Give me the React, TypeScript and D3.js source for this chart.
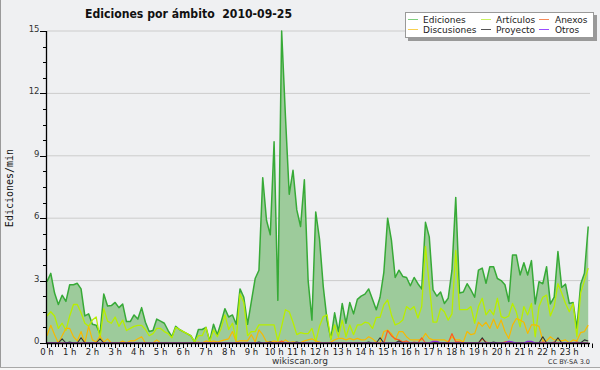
import React from 'react';
import * as d3 from 'd3';

// 10-minute samples, 144 per day
const ediciones = [
  2.95, 3.35, 2.4, 1.85, 2.3, 2.0, 2.8, 2.8, 2.87, 2.6, 1.3, 1.4,
  0.9, 0.85, 0.45, 2.36, 1.78, 1.8, 1.95, 1.7, 1.87, 1.03, 1.03, 1.35,
  1.15, 1.7, 1.0, 0.55, 0.6, 1.15, 1.05, 0.95, 0.6, 0.3, 0.8, 0.65,
  0.55, 0.45, 0.35, 0.05, 0.65, 0.65, 0.75, 0.1, 0.9, 0.4, 1.0, 1.65,
  1.25, 1.35, 0.9, 2.6, 2.2, 0.9, 2.0, 3.1, 3.5, 7.95, 5.9, 5.2,
  9.68, 2.05, 15.0, 10.9, 7.15, 8.3, 6.4, 5.6, 7.85, 3.0, 1.1, 6.3,
  5.0, 2.7, 1.1, 0.2, 1.45, 0.55, 1.9, 0.95, 1.95, 1.4, 2.1, 2.25,
  2.35, 2.6, 2.1, 1.6, 2.2, 3.4, 6.0, 4.95, 3.15, 3.5, 3.2, 3.15,
  2.75, 3.15, 2.85, 2.6, 5.8, 5.1, 2.55, 2.25, 2.45, 1.9, 2.15, 3.5,
  7.0, 2.4, 2.45, 2.85, 2.55, 2.2, 3.5, 3.6, 2.87, 3.67, 3.67, 3.1,
  3.0, 2.8, 2.0, 4.23, 4.23, 3.27, 3.86, 3.27, 3.96, 1.88, 2.95, 2.85,
  3.67, 1.88, 2.2, 4.4, 2.67, 2.83, 1.9, 1.95, 0.7, 2.83, 3.35, 5.6,
];

const articulos = [
  1.3, 1.5, 1.3, 0.7, 0.95, 0.6, 1.3, 1.85, 1.85, 1.45, 0.95, 0.8,
  1.1, 1.25, 0.2, 1.65, 1.05, 0.95, 1.25, 0.8, 1.1, 0.6, 0.7, 0.8,
  0.85, 0.85, 0.65, 0.35, 0.45, 0.7, 0.7, 0.55, 0.45, 0.25, 0.75, 0.65,
  0.55, 0.45, 0.35, 0.05, 0.35, 0.35, 0.75, 0.05, 0.63, 0.3, 0.7, 1.35,
  0.65, 0.95, 0.15, 2.36, 1.95, 0.35, 0.55, 0.55, 0.87, 0.87, 0.87, 0.87,
  0.87, 0.1, 0.8, 1.6, 1.5, 1.0, 0.4, 0.5, 0.45, 0.45, 0.7, 0.06,
  0.8, 1.27, 1.35, 0.15, 0.87, 0.3, 1.1, 0.3, 0.87, 0.4, 0.87, 0.87,
  1.0, 0.95, 0.7, 1.23, 1.23, 1.83, 2.07, 1.35, 0.87, 0.95, 1.1, 1.75,
  1.6, 1.75, 1.2, 1.75, 4.65, 2.8, 1.0, 1.0, 1.67, 1.5, 1.1, 1.4,
  4.45, 1.6, 1.6, 1.6, 1.75, 0.95, 1.75, 2.15, 1.35, 1.6, 1.35, 2.15,
  1.27, 1.2, 1.3, 1.9, 1.5, 0.78, 1.75, 1.35, 1.9, 0.3, 1.75, 2.2,
  2.3, 1.3, 1.75, 2.85, 2.4, 1.9, 1.5, 1.9, 0.3, 2.4, 3.0, 3.6,
];

const discusiones = [
  0.35, 0.85, 0.4, 0.0, 0.35, 0.7, 0.7, 0.3, 0.1, 0.55, 0.0, 0.8,
  0.15, 0.05, 0.35, 0.05, 0.2, 0.0, 0.0, 0.0, 0.1, 0.0, 0.1, 0.1,
  0.2, 0.3, 0.0, 0.0, 0.0, 0.15, 0.0, 0.0, 0.0, 0.0, 0.0, 0.0,
  0.0, 0.0, 0.0, 0.0, 0.05, 0.0, 0.1, 0.05, 0.1, 0.05, 0.1, 0.15,
  0.2, 0.55, 0.05, 0.1, 0.1, 0.1, 0.4, 0.05, 0.63, 0.4, 0.05, 0.05,
  0.1, 0.05, 0.02, 0.15, 0.02, 0.05, 0.02, 0.02, 0.1, 0.15, 0.2, 0.1,
  0.05, 0.0, 0.0, 0.05, 0.15, 0.22, 0.22, 0.15, 0.22, 0.15, 0.22, 0.15,
  0.15, 0.3, 0.2, 0.05, 0.0, 0.55, 0.62, 0.45, 0.15, 0.55, 0.55, 0.3,
  0.15, 0.15, 0.15, 0.15, 0.46, 0.22, 0.15, 0.15, 0.15, 0.15, 0.05, 0.3,
  0.15, 0.15, 0.05, 0.55, 0.4, 0.45, 1.0, 0.8, 1.0, 0.7, 1.15, 0.7,
  1.1, 0.55, 0.22, 0.86, 1.18, 1.1, 1.0, 0.46, 0.87, 0.87, 0.8, 0.1,
  0.1, 0.3, 0.15, 0.15, 0.1, 0.15, 0.0, 0.15, 0.1, 0.5, 0.55, 0.86,
];

const anexos = [
  0, 0, 0, 0, 0, 0, 0, 0, 0, 0, 0, 0,
  0, 0, 0, 0, 0, 0, 0, 0, 0, 0, 0, 0,
  0, 0, 0, 0, 0, 0, 0, 0, 0, 0, 0, 0,
  0, 0, 0, 0, 0, 0, 0, 0, 0, 0, 0, 0,
  0, 0, 0, 0, 0, 0, 0, 0, 0, 0, 0, 0,
  0, 0, 0.1, 0, 0, 0, 0, 0, 0, 0, 0, 0,
  0, 0, 0, 0, 0, 0, 0, 0, 0, 0, 0, 0,
  0, 0, 0, 0, 0, 0, 0.6, 0.35, 0.2, 0.15, 0.05, 0.1,
  0, 0.05, 0, 0.25, 0, 0, 0, 0, 0, 0, 0, 0.45,
  0.05, 0.05, 0, 0, 0, 0, 0, 0.2, 0.05, 0, 0, 0,
  0, 0.05, 0.05, 0, 0, 0, 0, 0, 0, 0, 0, 0.05,
  0, 0, 0.05, 0, 0, 0, 0, 0, 0.05, 0, 0, 0,
];

const proyecto = [
  0, 0, 0, 0, 0.2, 0, 0.05, 0, 0, 0.25, 0, 0,
  0, 0, 0.2, 0, 0, 0, 0, 0, 0, 0, 0, 0,
  0, 0, 0, 0, 0, 0, 0, 0, 0, 0, 0, 0,
  0, 0, 0, 0, 0, 0, 0, 0, 0, 0, 0, 0,
  0, 0, 0, 0, 0, 0, 0, 0, 0.05, 0, 0, 0.05,
  0, 0, 0, 0, 0, 0, 0.05, 0, 0, 0, 0, 0,
  0, 0, 0, 0, 0, 0, 0, 0, 0, 0, 0, 0,
  0, 0.05, 0, 0, 0.25, 0, 0, 0, 0, 0.1, 0, 0,
  0, 0, 0, 0, 0, 0, 0, 0.05, 0, 0, 0, 0,
  0, 0, 0, 0, 0, 0, 0, 0.25, 0, 0, 0.05, 0,
  0, 0, 0, 0, 0, 0, 0, 0, 0, 0, 0, 0.3,
  0, 0, 0, 0.25, 0, 0, 0, 0, 0, 0, 0.15, 0.1,
];

const otros = [
  0, 0, 0, 0, 0, 0, 0, 0, 0, 0, 0, 0,
  0, 0, 0, 0, 0, 0, 0, 0, 0, 0, 0, 0,
  0, 0, 0, 0, 0, 0, 0, 0, 0, 0, 0, 0,
  0, 0, 0, 0, 0, 0, 0, 0, 0, 0, 0, 0,
  0, 0, 0, 0, 0, 0, 0, 0, 0, 0, 0, 0,
  0, 0, 0, 0, 0, 0, 0, 0, 0, 0, 0, 0,
  0, 0, 0, 0, 0, 0, 0, 0, 0, 0, 0, 0,
  0, 0, 0, 0, 0, 0, 0, 0, 0, 0, 0, 0,
  0, 0, 0, 0, 0, 0, 0.08, 0.08, 0, 0, 0, 0,
  0, 0, 0, 0, 0, 0, 0, 0, 0, 0, 0, 0,
  0, 0, 0.08, 0.05, 0, 0, 0, 0.08, 0.08, 0, 0, 0,
  0, 0, 0, 0, 0, 0, 0, 0, 0, 0, 0, 0,
];

const hourLabels = [
  '0 h', '1 h', '2 h', '3 h', '4 h', '5 h', '6 h', '7 h', '8 h', '9 h', '10 h', '11 h',
  '12 h', '13 h', '14 h', '15 h', '16 h', '17 h', '18 h', '19 h', '20 h', '21 h', '22 h', '23 h',
];
const yTicks = [0, 3, 6, 9, 12, 15];
const legendItems = [
  { name: 'Ediciones', color: '#7fcf7f' },
  { name: 'Artículos', color: '#c8f060' },
  { name: 'Anexos', color: '#f58a5a' },
  { name: 'Discusiones', color: '#f8d050' },
  { name: 'Proyecto', color: '#555555' },
  { name: 'Otros', color: '#9a4dff' },
];

const W = 600;
const H = 370;
const X0 = 47;
const X1 = 592;
const Y0 = 343;
const Y1 = 31;

export default function App() {
  const x = d3.scaleLinear().domain([0, 144]).range([X0, X1]);
  const y = d3.scaleLinear().domain([0, 15]).range([Y0, Y1]);
  const line = d3.line<number>().x((_, i) => x(i)).y((d) => y(d));
  const area = d3.area<number>().x((_, i) => x(i)).y0(y(0)).y1((d) => y(d));
  const minorY = d3.range(0, 15.01, 0.75);
  const minorX = d3.range(0, 145, 1);

  const series = [
    { data: articulos, color: '#b8ee00', w: 1.3 },
    { data: discusiones, color: '#f7b900', w: 1.2 },
    { data: anexos, color: '#ff5a1f', w: 1.2 },
    { data: proyecto, color: '#333333', w: 1.1 },
    { data: otros, color: '#8a2be2', w: 1.2 },
  ];

  const font = 'DejaVu Sans, sans-serif';

  return (
    <svg
      width={W}
      height={H}
      style={{ position: 'absolute', left: 0, top: 0, display: 'block' }}
      fontFamily={font}
    >
      <rect x={0} y={0} width={W} height={H} fill="#eff0f2" />
      <line x1={0.5} y1={0} x2={0.5} y2={367} stroke="#9a9a9a" />
      <line x1={0} y1={367.5} x2={W} y2={367.5} stroke="#a8a8a8" />
      <rect x={0} y={368} width={W} height={2} fill="#f6f6f6" />

      {/* gridlines */}
      {yTicks.filter((t) => t > 0).map((t) => (
        <line key={t} x1={X0} x2={590} y1={y(t)} y2={y(t)} stroke="#cccccc" strokeWidth={1} />
      ))}

      {/* Ediciones area */}
      <path d={area(ediciones) || ''} fill="#9dcb9b" />
      <path d={line(ediciones) || ''} fill="none" stroke="#37aa37" strokeWidth={1.5} strokeLinejoin="round" />

      {series.map((s, k) => (
        <path key={k} d={line(s.data) || ''} fill="none" stroke={s.color} strokeWidth={s.w} strokeLinejoin="round" />
      ))}

      {/* Y axis */}
      <line x1={46.5} x2={46.5} y1={Y1} y2={Y0 + 1} stroke="#000" strokeWidth={1.3} />
      {minorY.map((v) => (
        <line key={v} x1={43} x2={46.5} y1={Math.round(y(v)) + 0.5} y2={Math.round(y(v)) + 0.5} stroke="#000" strokeWidth={1} />
      ))}
      {yTicks.map((t) => (
        <g key={t}>
          <line x1={40} x2={46.5} y1={Math.round(y(t)) + 0.5} y2={Math.round(y(t)) + 0.5} stroke="#000" strokeWidth={1} />
          <text x={39.5} y={y(t) + 1} textAnchor="end" fontSize={8.5} fill="#333">{t}</text>
        </g>
      ))}
      <text
        transform={`translate(13,188) rotate(-90)`}
        textAnchor="middle"
        fontSize={10}
        fontFamily="DejaVu Sans Mono, monospace"
        fill="#111"
      >
        Ediciones/min
      </text>

      {/* X axis */}
      <line x1={46} x2={590} y1={343.5} y2={343.5} stroke="#000" strokeWidth={1.3} />
      {minorX.map((i) => (
        <line key={i} x1={Math.round(x(i)) + 0.5} x2={Math.round(x(i)) + 0.5} y1={343.5} y2={i % 6 === 0 ? 348 : 347} stroke="#000" strokeWidth={1} />
      ))}
      {hourLabels.map((lab, h) => (
        <text key={lab} x={x(h * 6)} y={354.5} textAnchor="middle" fontSize={8.5} fill="#222">{lab}</text>
      ))}

      <text x={300} y={364} textAnchor="middle" fontSize={9} fill="#333">wikiscan.org</text>
      <text x={590} y={364} textAnchor="end" fontSize={6.5} fill="#333">CC BY-SA 3.0</text>

      {/* Title */}
      <text
        x={85}
        y={18}
        fontSize={12.5}
        fontWeight="bold"
        fill="#111"
        fontFamily="DejaVu Sans Condensed, DejaVu Sans, sans-serif"
        textLength={207}
        lengthAdjust="spacingAndGlyphs"
      >
        Ediciones por ámbito{'\u00a0\u00a0'}2010-09-25
      </text>

      {/* Legend */}
      <rect x={408} y={15} width={189} height={26} fill="#999" />
      <rect x={405.5} y={12.5} width={188} height={25} fill="#fff" stroke="#999" />
      {legendItems.map((it, k) => {
        const col = k % 3;
        const row = Math.floor(k / 3);
        const lx = [408, 481, 539][col];
        const tx = [423, 496, 555][col];
        const ly = 19.5 + row * 10;
        return (
          <g key={it.name}>
            <line x1={lx} x2={lx + 10} y1={ly} y2={ly} stroke={it.color} strokeWidth={1} />
            <text x={tx} y={ly + 3} fontSize={9} fill="#222">{it.name}</text>
          </g>
        );
      })}
    </svg>
  );
}
